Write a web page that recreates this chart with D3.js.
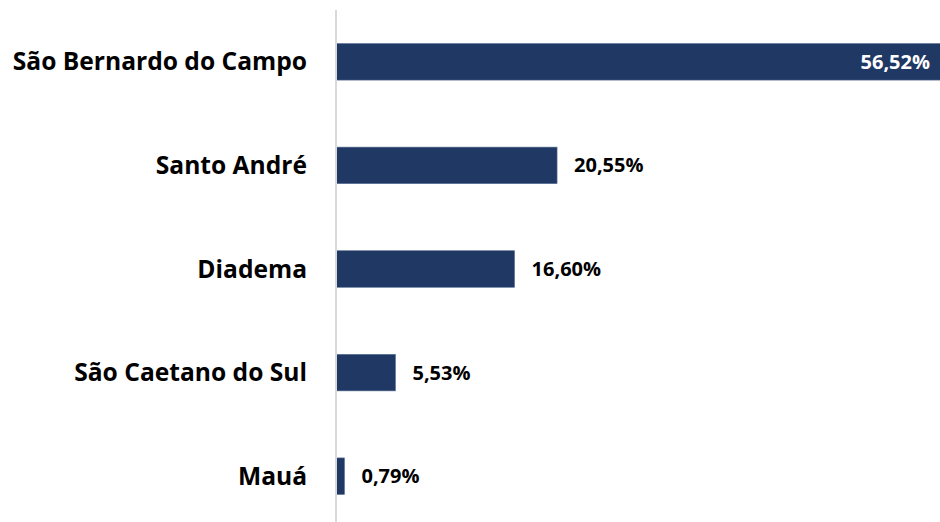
<!DOCTYPE html>
<html>
<head>
<meta charset="utf-8">
<script src="https://cdn.jsdelivr.net/npm/d3@7"></script>
<style>
  body { margin: 0; background: #fff; }
  text { font-family: "Open Sans", sans-serif; font-weight: bold; }
</style>
</head>
<body>
<div id="chart"></div>
<script>
var cities = ["São Bernardo do Campo", "Santo André", "Diadema", "São Caetano do Sul", "Mauá"];
var shares = [56.52, 20.55, 16.60, 5.53, 0.79];
var shareLabels = ["56,52%", "20,55%", "16,60%", "5,53%", "0,79%"];

var width = 940, height = 522;
var axisX = 336;

var data = cities.map(function(c, i) {
    return { city: c, value: shares[i], label: shareLabels[i] };
});

var svg = d3.select("#chart")
    .append("svg")
    .attr("width", width)
    .attr("height", height);

// x scale: bar of the largest value runs a little past the right edge
var x = d3.scaleLinear()
    .domain([0, 56.52])
    .range([axisX, 944]);

var y = d3.scaleBand()
    .domain(cities)
    .range([10, 528])
    .paddingInner(0.647)
    .paddingOuter(0.3235);

// bars
svg.selectAll(".bar")
    .data(data)
    .enter()
    .append("rect")
    .attr("class", "bar")
    .attr("x", x(0))
    .attr("y", function(d) { return y(d.city); })
    .attr("width", function(d) { return x(d.value) - x(0); })
    .attr("height", y.bandwidth())
    .style("fill", "#203864")
    .style("stroke", "#5a6f95")
    .style("stroke-width", 0.6);

// vertical axis line
svg.append("line")
    .attr("x1", axisX).attr("x2", axisX)
    .attr("y1", 10).attr("y2", height)
    .style("stroke", "#d9d9d9")
    .style("stroke-width", 2);

// category labels
svg.selectAll(".cat")
    .data(data)
    .enter()
    .append("text")
    .attr("class", "cat")
    .attr("x", 307)
    .attr("y", function(d) { return y(d.city) + y.bandwidth() / 2; })
    .attr("dy", "0.35em")
    .attr("text-anchor", "end")
    .style("font-size", "24.6px")
    .style("fill", "#000")
    .text(function(d) { return d.city; });

// value labels: inside for the big bar, outside for the rest
svg.selectAll(".val")
    .data(data)
    .enter()
    .append("text")
    .attr("class", "val")
    .attr("x", function(d) { return d.value > 50 ? 930 : x(d.value) + 17; })
    .attr("y", function(d) { return y(d.city) + y.bandwidth() / 2; })
    .attr("dy", "0.35em")
    .attr("text-anchor", function(d) { return d.value > 50 ? "end" : "start"; })
    .style("font-size", "20px")
    .style("fill", function(d) { return d.value > 50 ? "#fff" : "#000"; })
    .text(function(d) { return d.label; });
</script>
</body>
</html>
